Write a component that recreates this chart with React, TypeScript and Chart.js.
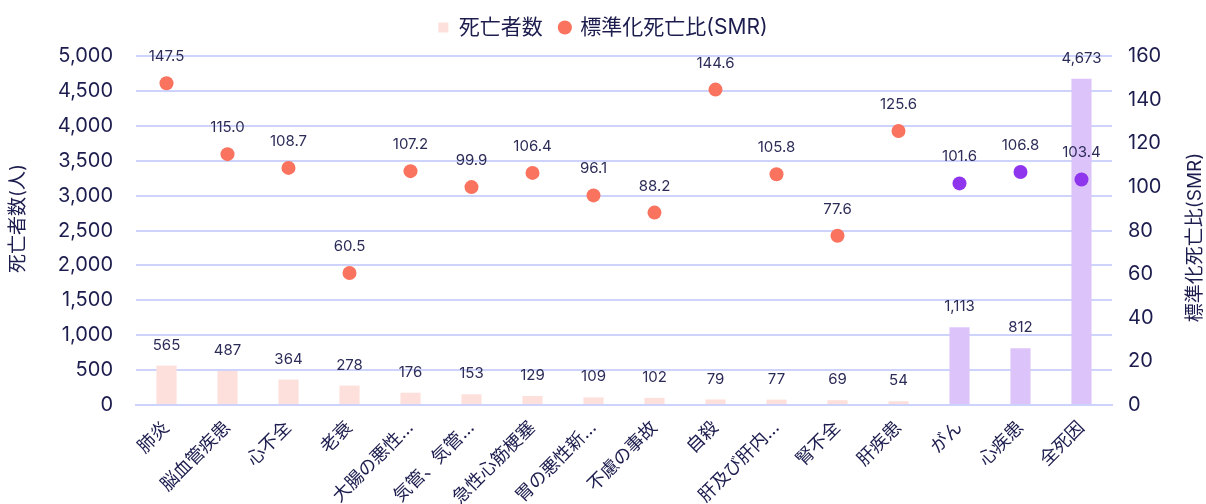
import React, { useEffect, useRef } from "react";
import { Chart, registerables } from "chart.js";

Chart.register(...registerables);

const categories = [
  "肺炎", "脳血管疾患", "心不全", "老衰", "大腸の悪性新生物", "気管、気管支及び肺の悪性新生物",
  "急性心筋梗塞", "胃の悪性新生物", "不慮の事故", "自殺", "肝及び肝内胆管の悪性新生物",
  "腎不全", "肝疾患", "がん", "心疾患", "全死因",
];
const deaths = [565, 487, 364, 278, 176, 153, 129, 109, 102, 79, 77, 69, 54, 1113, 812, 4673];
const smr = [147.5, 115.0, 108.7, 60.5, 107.2, 99.9, 106.4, 96.1, 88.2, 144.6, 105.8, 77.6, 125.6, 101.6, 106.8, 103.4];
const highlightFrom = 13;
const legendLabels = ["死亡者数", "標準化死亡比(SMR)"];
const leftTitle = "死亡者数(人)";
const rightTitle = "標準化死亡比(SMR)";

const FONT = "Inter, 'Noto Sans CJK JP', sans-serif";
const TEXT = "#1c1c4e";
const GRID = "#cdd3fa";
const BAR = "#fde0dc";
const BAR_HI = "#dcc4fb";
const PT = "#f9735f";
const PT_HI = "#9035ee";

const labelPlugin = {
  id: "valueLabels",
  afterInit(chart: any) {
    const lg = chart.legend;
    if (lg) {
      const f = lg.fit;
      lg.fit = function (this: any) {
        f.call(this);
        this.height += 8;
      };
    }
  },
  afterDatasetsDraw(chart: any) {
    const ctx = chart.ctx;
    ctx.save();
    ctx.font = `15px ${FONT}`;
    ctx.fillStyle = "#2c2c58";
    ctx.textAlign = "center";
    ctx.textBaseline = "bottom";
    chart.data.datasets.forEach((ds: any, di: number) => {
      const meta = chart.getDatasetMeta(di);
      meta.data.forEach((el: any, i: number) => {
        const v = ds.data[i];
        if (di === 0) {
          ctx.fillText(v.toLocaleString("en-US"), el.x, el.y - 13);
        } else {
          ctx.fillText(v.toFixed(1), el.x, el.y - 19);
        }
      });
    });
    ctx.restore();
  },
  afterDraw(chart: any) {
    const ctx = chart.ctx;
    const { top, bottom } = chart.chartArea;
    const mid = (top + bottom) / 2;
    ctx.save();
    ctx.font = `19px ${FONT}`;
    ctx.fillStyle = TEXT;
    ctx.textAlign = "center";
    ctx.textBaseline = "middle";
    ctx.save();
    ctx.translate(18, mid - 12);
    ctx.rotate(-Math.PI / 2);
    ctx.fillText(leftTitle, 0, 0);
    ctx.restore();
    ctx.save();
    ctx.translate(chart.width - 11, mid + 7);
    ctx.rotate(-Math.PI / 2);
    ctx.fillText(rightTitle, 0, 0);
    ctx.restore();
    ctx.restore();
  },
};

export default function App() {
  const ref = useRef<HTMLCanvasElement | null>(null);
  useEffect(() => {
    document.body.style.margin = "0";
    if (!ref.current) return;
    const barColors = deaths.map((_, i) => (i >= highlightFrom ? BAR_HI : BAR));
    const ptColors = smr.map((_, i) => (i >= highlightFrom ? PT_HI : PT));
    const chart = new Chart(ref.current, {
      type: "bar",
      data: {
        labels: categories,
        datasets: [
          {
            type: "bar",
            label: legendLabels[0],
            data: deaths,
            backgroundColor: barColors,
            yAxisID: "y",
            barPercentage: 0.33,
            categoryPercentage: 1,
            order: 2,
          },
          {
            type: "line",
            label: legendLabels[1],
            data: smr,
            showLine: false,
            yAxisID: "y1",
            pointRadius: 7,
            pointHoverRadius: 7,
            pointBackgroundColor: ptColors,
            pointBorderColor: ptColors,
            pointBorderWidth: 0,
            backgroundColor: PT,
            borderColor: PT,
            order: 1,
          } as any,
        ],
      },
      options: {
        animation: false,
        responsive: false,
        layout: { padding: 0 },
        plugins: {
          legend: {
            position: "top",
            labels: {
              usePointStyle: true,
              boxWidth: 10,
              boxHeight: 10,
              font: { family: FONT, size: 21 },
              color: TEXT,
              padding: 17,
              generateLabels: () => [
                { text: legendLabels[0], fillStyle: BAR, strokeStyle: BAR, lineWidth: 0, pointStyle: "rect", datasetIndex: 0, fontColor: TEXT } as any,
                { text: legendLabels[1], fillStyle: PT, strokeStyle: PT, lineWidth: 0, pointStyle: "circle", datasetIndex: 1, fontColor: TEXT } as any,
              ],
            },
          },
          tooltip: { enabled: false },
        },
        scales: {
          x: {
            grid: { display: false },
            border: { color: GRID, width: 2 },
            afterFit: (s: any) => {
              s.height = 99;
            },
            ticks: {
              color: TEXT,
              font: { family: FONT, size: 18 },
              maxRotation: 45,
              minRotation: 45,
              autoSkip: false,
              padding: 4,
              callback: function (value: any) {
                const s = categories[value as number];
                return s.length > 6 ? s.slice(0, 5) + "…" : s;
              },
            },
          },
          y: {
            position: "left",
            min: 0,
            max: 5000,
            afterFit: (s: any) => {
              s.width = 136;
            },
            ticks: {
              stepSize: 500,
              color: TEXT,
              font: { family: FONT, size: 20 },
              padding: 23,
              callback: (v: any) => Number(v).toLocaleString("en-US"),
            },
            grid: { color: GRID, lineWidth: 2, drawTicks: false },
            border: { display: false },
            title: { display: false },
          },
          y1: {
            position: "right",
            min: 0,
            max: 160,
            afterFit: (s: any) => {
              s.width = 94;
            },
            ticks: {
              stepSize: 20,
              color: TEXT,
              font: { family: FONT, size: 20 },
              padding: 16,
            },
            grid: { display: false, drawTicks: false },
            border: { display: false },
            title: { display: false },
          },
        },
      },
      plugins: [labelPlugin],
    });
    return () => chart.destroy();
  }, []);
  return (
    <div style={{ width: 1206, height: 504 }}>
      <canvas ref={ref} width={1206} height={504} style={{ display: "block", width: 1206, height: 504 }} />
    </div>
  );
}
